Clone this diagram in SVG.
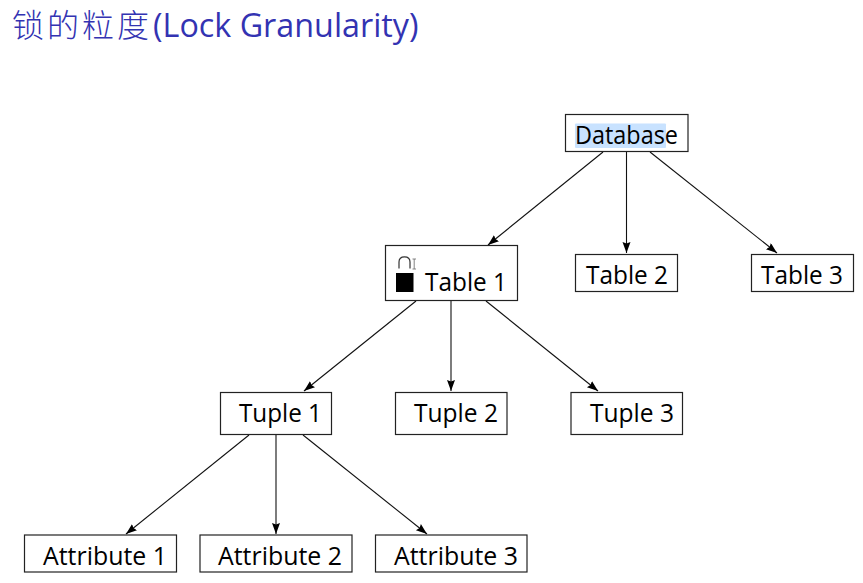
<svg xmlns="http://www.w3.org/2000/svg" width="863" height="583" viewBox="0 0 863 583">
<style>
text{font-family:"Open Sans","Liberation Sans","Noto Sans CJK SC",sans-serif;fill:#000;font-size:26px}
.title{fill:#3333b2;font-size:32.300px}
.cjk{font-family:"Noto Sans CJK SC",sans-serif;font-size:32px;letter-spacing:3px;font-weight:300}
.box{fill:#fff;stroke:#222;stroke-width:1.2}
.edge{stroke:#111;stroke-width:1.1;fill:none;marker-end:url(#arrow)}
</style>
<defs>
<marker id="arrow" markerUnits="userSpaceOnUse" markerWidth="12" markerHeight="10" refX="11" refY="4" orient="auto">
<path d="M0 0L11 4L0 8L1.500 4Z" fill="#000"/>
</marker>
</defs>
<rect width="863" height="583" fill="#fff"/>
<text class="title" x="12" y="37"><tspan class="cjk">锁的粒度</tspan><tspan x="153">(Lock Granularity)</tspan></text>
<g id="connectors">
<path class="edge" d="M603 152L488 245"/>
<path class="edge" d="M626.500 152V253"/>
<path class="edge" d="M650 152L777 253"/>
<path class="edge" d="M416 301L304 391"/>
<path class="edge" d="M451 301V391"/>
<path class="edge" d="M486 301L598 391"/>
<path class="edge" d="M249 435L126 534"/>
<path class="edge" d="M276 435V534"/>
<path class="edge" d="M303 435L427 534"/>
</g>
<g id="database">
<rect class="box" x="565.500" y="114.500" width="122.500" height="37"/>
<rect x="575" y="123.500" width="91" height="24.500" rx="1" fill="#c8e2ff"/>
<text x="575" y="143.500" textLength="103" lengthAdjust="spacingAndGlyphs">Database</text>
</g>
<g id="table1">
<rect class="box" x="385.500" y="245.500" width="132" height="55"/>
<rect x="396" y="273" width="17.500" height="19" fill="#000"/>
<path d="M399 268.500V262Q399 256.800 404.500 256.800Q410 256.800 410 262V268.500" fill="none" stroke="#333" stroke-width="1.200"/>
<path d="M412.500 259H416M412.500 269H416M414.200 259V269" fill="none" stroke="#777" stroke-width="0.900"/>
<text x="425" y="290.500" textLength="82" lengthAdjust="spacingAndGlyphs">Table 1</text>
</g>
<g id="table2">
<rect class="box" x="575.500" y="254.500" width="102" height="37"/>
<text x="586" y="283.500" textLength="82" lengthAdjust="spacingAndGlyphs">Table 2</text>
</g>
<g id="table3">
<rect class="box" x="751.500" y="254.500" width="102" height="37"/>
<text x="761" y="283.500" textLength="82" lengthAdjust="spacingAndGlyphs">Table 3</text>
</g>
<g id="tuple1">
<rect class="box" x="220.500" y="392.500" width="111" height="42"/>
<text x="239" y="421.500" textLength="83" lengthAdjust="spacingAndGlyphs">Tuple 1</text>
</g>
<g id="tuple2">
<rect class="box" x="395.500" y="392.500" width="111.500" height="42"/>
<text x="414" y="421.500" textLength="84" lengthAdjust="spacingAndGlyphs">Tuple 2</text>
</g>
<g id="tuple3">
<rect class="box" x="571" y="392.500" width="111.500" height="42"/>
<text x="590" y="421.500" textLength="84" lengthAdjust="spacingAndGlyphs">Tuple 3</text>
</g>
<g id="attribute1">
<rect class="box" x="24.500" y="535" width="152" height="37"/>
<text x="43" y="564.500" textLength="124" lengthAdjust="spacingAndGlyphs">Attribute 1</text>
</g>
<g id="attribute2">
<rect class="box" x="200" y="535" width="152" height="37"/>
<text x="218" y="564.500" textLength="124" lengthAdjust="spacingAndGlyphs">Attribute 2</text>
</g>
<g id="attribute3">
<rect class="box" x="375.500" y="535" width="151.500" height="37"/>
<text x="394" y="564.500" textLength="124" lengthAdjust="spacingAndGlyphs">Attribute 3</text>
</g>
</svg>
